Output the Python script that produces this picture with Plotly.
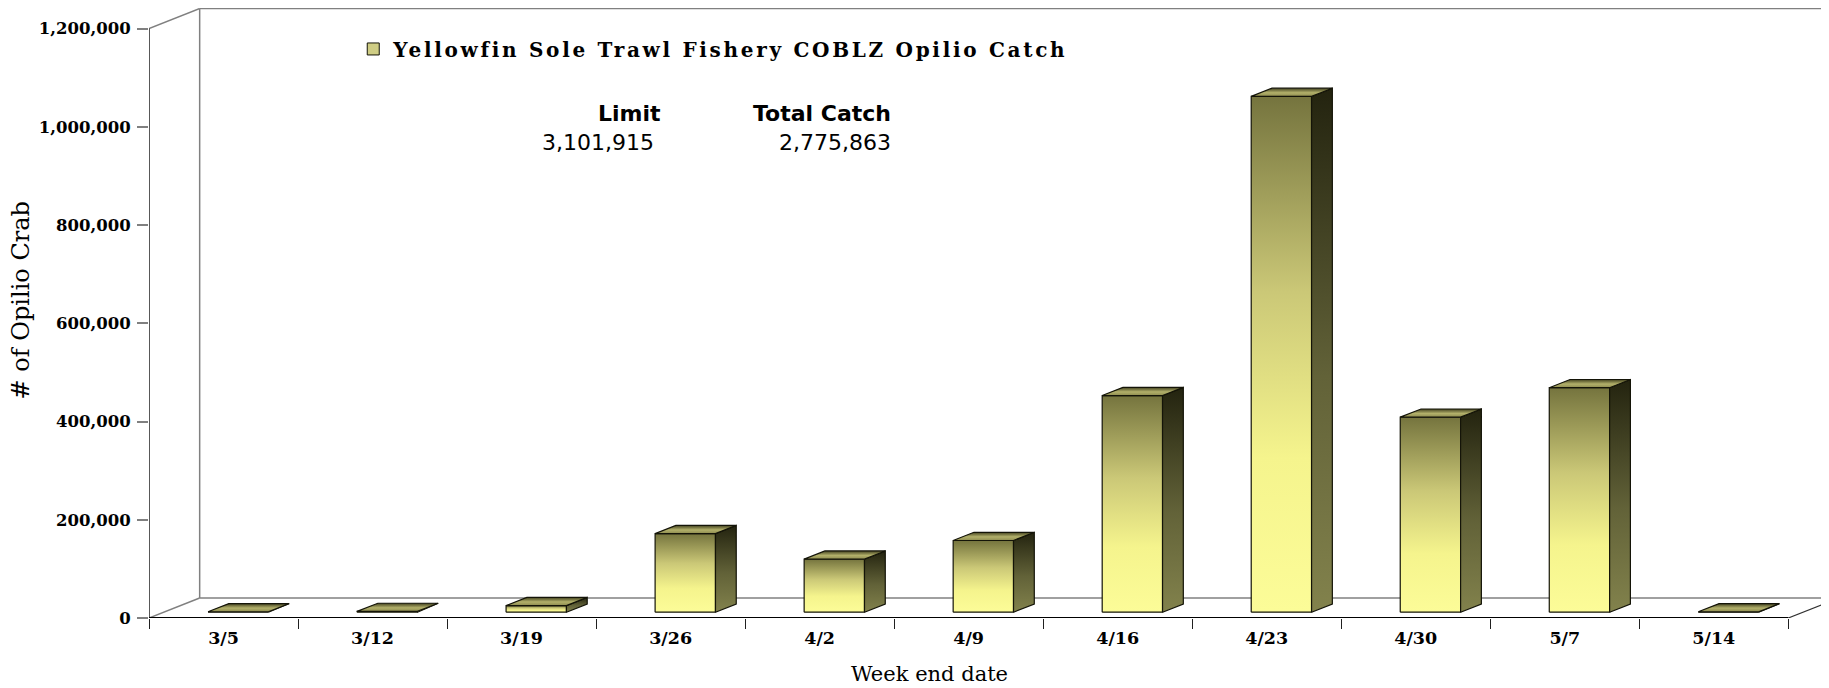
import plotly.graph_objects as go

# ---------------- data ----------------
weeks = ["3/5", "3/12", "3/19", "3/26", "4/2", "4/9", "4/16", "4/23", "4/30", "5/7", "5/14"]
catch = [900, 1600, 13500, 160000, 108000, 146000, 441000, 1050000, 397000, 457000, 863]
y_tick_values = [0, 200000, 400000, 600000, 800000, 1000000, 1200000]
limit_value = 3101915
total_catch = sum(catch)
series_name = "Yellowfin Sole Trawl Fishery COBLZ Opilio Catch"

# ---------------- geometry / style ----------------
PAGE_OFF = 8                   # default body margin of the html page
W, H = 1829 - PAGE_OFF, 688 - PAGE_OFF
ML, MT, MB = 141.3, 0.0, 69.5
PLOT_W = W - ML
PLOT_H = H - MT - MB
CAT_PX = 149.0                 # pixels per category
VAL_PER_PX = 200000 / 98.33    # value units per pixel
X0 = -0.5
X_MAX = X0 + PLOT_W / CAT_PX
Y_MAX = PLOT_H * VAL_PER_PX
Y_TOP = y_tick_values[-1]
N = len(weeks)

DX = 0.34                      # chart depth (category units)
DY = 20.0 * VAL_PER_PX         # chart depth (value units)
BAR_W = 0.405
F0, F1 = 0.29, 0.70            # bar front / back depth fractions

FRONT_CS = [[0, "#FCFC98"], [0.3, "#F5F48D"], [0.62, "#CBC877"], [1, "#75743E"]]
SIDE_CS = [[0, "#82824C"], [0.45, "#626238"], [1, "#23230F"]]
TOP_CS = [[0, "#8E8C50"], [0.45, "#B2B06A"], [1, "#43421F"]]
EDGE = "#141408"


def px_x(p):
    return (p - PAGE_OFF - ML) / PLOT_W


def px_y(p):
    return (H - MB - (p - PAGE_OFF)) / PLOT_H


def face(xs, ys, cs):
    return go.Scatter(
        x=xs + [xs[0]], y=ys + [ys[0]], mode="lines", fill="toself",
        fillgradient=dict(type="vertical", colorscale=cs),
        line=dict(color=EDGE, width=1.2), hoverinfo="skip", showlegend=False,
    )


fig = go.Figure()

sdx = (F1 - F0) * DX
sdy = (F1 - F0) * DY
for i, v in enumerate(catch):
    x0 = i - BAR_W / 2 + F0 * DX
    x1 = x0 + BAR_W
    yb = F0 * DY
    yt = yb + v
    fig.add_trace(face([x0, x1, x1, x0], [yb, yb, yt, yt], FRONT_CS))
    fig.add_trace(face([x1, x1 + sdx, x1 + sdx, x1], [yb, yb + sdy, yt + sdy, yt], SIDE_CS))
    fig.add_trace(face([x0, x1, x1 + sdx, x0 + sdx], [yt, yt, yt + sdy, yt + sdy], TOP_CS))

# legend entry
fig.add_trace(go.Bar(x=[None], y=[None],
                     name='<span style="letter-spacing:2.7px">' + series_name + "</span>",
                     marker=dict(color="#CFCD84", line=dict(color=EDGE, width=1)),
                     showlegend=True))

# ---------------- walls / floor / front axes ----------------
gray = dict(color="#808080", width=1.5)
shapes = [
    dict(type="line", x0=X0 + DX, y0=DY, x1=X0 + DX, y1=Y_TOP + DY, line=gray),
    dict(type="line", x0=X0 + DX, y0=Y_TOP + DY, x1=X_MAX + 1, y1=Y_TOP + DY, line=gray),
    dict(type="line", x0=X0 + DX, y0=DY, x1=X_MAX + 1, y1=DY, line=gray),
    dict(type="line", x0=X0, y0=Y_TOP, x1=X0 + DX, y1=Y_TOP + DY, line=gray),
    dict(type="line", x0=X0, y0=0, x1=X0 + DX, y1=DY, line=gray),
    dict(type="line", x0=N - 0.5, y0=0, x1=N - 0.5 + DX, y1=DY, line=dict(color="#303030", width=1.2)),
    dict(type="line", x0=X0, y0=0, x1=X0, y1=Y_TOP, line=dict(color="#202020", width=1.5)),
    dict(type="line", x0=X0, y0=0, x1=N - 0.5, y1=0, line=dict(color="#000000", width=2)),
]
for s in shapes:
    s.update(xref="x", yref="y", layer="below")

y_font = dict(family="DejaVu Serif", size=16.5, color="#000000", weight="bold")
x_font = dict(family="DejaVu Serif", size=17.5, color="#000000", weight="bold")


def note(text, x, y, xanchor, size, **kw):
    return dict(text=text, x=px_x(x), y=px_y(y), xref="paper", yref="paper",
                xanchor=xanchor, yanchor="middle", showarrow=False,
                font=dict(family=kw.pop("family", "DejaVu Sans"), size=size, color="#000"), **kw)


fig.update_layout(
    width=W, height=H, autosize=False,
    margin=dict(l=ML, r=0, t=MT, b=MB, autoexpand=False),
    paper_bgcolor="white", plot_bgcolor="white",
    shapes=shapes,
    showlegend=True,
    legend=dict(x=px_x(353.5), y=px_y(49), xanchor="left", yanchor="middle",
                font=dict(family="DejaVu Serif", size=20, color="#000", weight="bold"),
                bgcolor="rgba(0,0,0,0)", itemclick=False),
    xaxis=dict(
        range=[X0, X_MAX], showgrid=False, zeroline=False, showline=False,
        tickmode="array", tickvals=list(range(N)), ticktext=weeks,
        ticks="", tickfont=x_font, ticklabelstandoff=7,
        minor=dict(tickmode="array", tickvals=[k - 0.5 for k in range(N + 1)],
                   ticks="outside", ticklen=10, tickwidth=1.2, tickcolor="#202020", showgrid=False),
        fixedrange=True,
    ),
    yaxis=dict(
        range=[0, Y_MAX], showgrid=False, zeroline=False, showline=False,
        tickmode="array", tickvals=y_tick_values, tickformat=",d",
        ticks="outside", ticklen=11, tickwidth=1.5, tickcolor="#808080",
        tickfont=y_font, ticklabelstandoff=3, fixedrange=True,
    ),
    annotations=[
        note("Week end date", 930, 675, "center", 21, family="DejaVu Serif"),
        note("# of Opilio Crab", 21, 301, "center", 24, family="DejaVu Serif", textangle=-90),
        note("<b>Limit</b>", 663.5, 113.5, "right", 22),
        note(f"{limit_value:,}", 656.5, 142.5, "right", 22),
        note("<b>Total Catch</b>", 893.5, 113.5, "right", 22),
        note(f"{total_catch:,}", 893.5, 142.5, "right", 22),
    ],
)

fig.write_html("out.html")
